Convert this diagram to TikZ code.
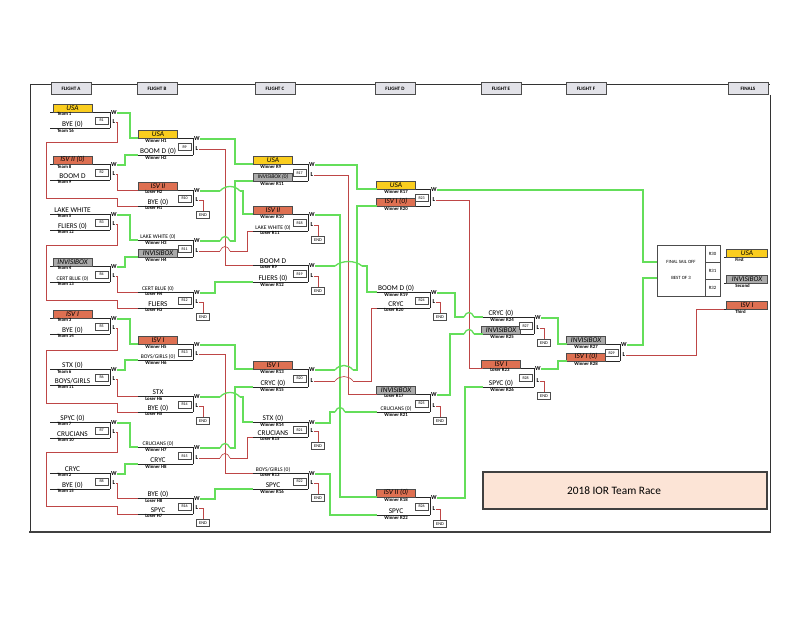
\documentclass[tikz,border=0pt]{standalone}
\usepackage{fontspec}
\setmainfont{Carlito}
\definecolor{ylw}{RGB}{250,205,30}
\definecolor{rdf}{RGB}{222,112,82}
\definecolor{gyf}{RGB}{170,170,170}
\definecolor{grn}{RGB}{100,222,90}
\definecolor{rdl}{RGB}{190,70,70}
\definecolor{peach}{RGB}{252,228,214}
\definecolor{hdr}{RGB}{226,226,232}
\tikzset{
  win/.style={grn, line width=1pt},
  lose/.style={rdl, line width=0.5pt},
  tline/.style={black!85, line width=0.6pt},
  rlab/.style={draw=black!70, line width=0.3pt, fill=white, minimum width=10pt, minimum height=5pt, inner sep=0pt, font=\fontsize{3}{3}\selectfont},
  endbox/.style={draw=black!70, line width=0.3pt, fill=white, minimum width=10pt, minimum height=5pt, inner sep=0pt, font=\fontsize{3.3}{3.3}\selectfont},
  nm/.style={anchor=base, inner sep=0pt, yshift=1.3pt, font=\fontsize{5.5}{6}\selectfont},
  nms/.style={anchor=base, inner sep=0pt, yshift=1.3pt, font=\fontsize{4.2}{5}\selectfont},
  bx/.style={anchor=south, inner sep=0pt, minimum width=29pt, minimum height=6pt, draw=black!70, line width=0.3pt, font=\fontsize{5.5}{6}\selectfont\itshape},
  yelbox/.style={bx, fill=ylw},
  redbox/.style={bx, fill=rdf},
  grybox/.style={bx, fill=gyf},
  grysmall/.style={bx, fill=gyf, font=\fontsize{4.2}{5}\selectfont\itshape},
  sub/.style={anchor=north west, inner sep=0pt, yshift=-0.4pt, font=\fontsize{3.6}{4}\selectfont\bfseries},
  wl/.style={inner sep=0pt, font=\fontsize{4.6}{4.6}\selectfont\bfseries},
  hdrbox/.style={draw=black!70, line width=0.5pt, fill=hdr, minimum width=30pt, minimum height=9.5pt, inner sep=0pt, font=\fontsize{3.8}{4}\selectfont\bfseries},
  ftxt/.style={inner sep=0pt, font=\fontsize{3.6}{4}\selectfont},
}
\newcommand\team[7]{%
  \draw[tline] (#2,#4) coordinate (#1) -- (#3,#4);
  \node[#5] (#1n) at ({(#2+#3-15)/2},#4) {#6};
  \node[sub] (#1s) at ({#2+7},#4) {#7};
}
\newcommand\rmatch[4]{%
  \draw[tline] (#2,#3) -- (#2,#4);
  \node[rlab, anchor=east] (R#1box) at ({#2-1.5},{(#3+#4)/2+0.5}) {R#1};
  \node[wl] (R#1w) at ({#2+4},{#3+1}) {W};
  \node[wl] (R#1l) at ({#2+4},{#4-6}) {L};
}
\newcommand\wire[4]{\draw[#1] (#2) -| (#3,0 |- #4) -- (#4);}
\newcommand\xfinbox[3]{%
  \node[endbox] (R#1e) at ({#2+10},{#3+9}) {END};
  \draw[lose] (R#1l.east) -| (R#1e.north);
}
\newcommand\vfix[3]{\draw[#3] (#1,{#2-6}) -- (#1,{#2+6});}
\newcommand\hop[5]{%
  \draw[white, line width=1.8pt] ({#1-0.3},#3) -- ({#2+0.3},#3);
  #5
  \draw[#4] (#1,#3) .. controls ({#1+0.25*(#2-#1)},{#3-6}) and ({#2-0.25*(#2-#1)},{#3-6}) .. (#2,#3);
}
\begin{document}
\begin{tikzpicture}[x=0.75pt,y=-0.75pt]
\useasboundingbox (0,0) rectangle (800,617);
\fill[white] (0,0) rectangle (800,617);
% frame
\draw[black!80, line width=0.7pt] (30,84) -- (770,84);
\draw[black!80, line width=0.7pt] (30,84) -- (30,532);
\draw[black!80, line width=0.7pt] (770,95) -- (770,532);
\draw[black!75, line width=1.6pt] (29,532) -- (771,532);
% headers
\node[hdrbox] (hA) at (71,88.5) {FLIGHT A};
\node[hdrbox] (hB) at (157,88.5) {FLIGHT B};
\node[hdrbox] (hC) at (275,88.5) {FLIGHT C};
\node[hdrbox] (hD) at (395,88.5) {FLIGHT D};
\node[hdrbox] (hE) at (501,88.5) {FLIGHT E};
\node[hdrbox] (hF) at (586,88.5) {FLIGHT F};
\node[hdrbox] (hG) at (748,88.5) {FINALS};
% ---------------- Flight A
\team{R1a}{50}{110}{112}{yelbox}{USA}{Team 1}
\team{R1b}{50}{110}{128}{nm}{BYE (0)}{Team 16}
\rmatch{1}{110}{112}{128}
\team{R2a}{50}{110}{164}{redbox}{ISV II (0)}{Team 8}
\team{R2b}{50}{110}{180}{nm}{BOOM D}{Team 9}
\rmatch{2}{110}{164}{180}
\team{R3a}{50}{110}{214}{nm}{LAKE WHITE}{Team 5}
\team{R3b}{50}{110}{230}{nm}{FLIERS (0)}{Team 12}
\rmatch{3}{110}{214}{230}
\team{R4a}{50}{110}{266}{grybox}{INVISIBOX}{Team 4}
\team{R4b}{50}{110}{282}{nms}{CERT BLUE (0)}{Team 13}
\rmatch{4}{110}{266}{282}
\team{R5a}{50}{110}{318}{redbox}{ISV I}{Team 3}
\team{R5b}{50}{110}{334}{nm}{BYE (0)}{Team 14}
\rmatch{5}{110}{318}{334}
\team{R6a}{50}{110}{369}{nm}{STX (0)}{Team 6}
\team{R6b}{50}{110}{385}{nm}{BOYS/GIRLS}{Team 11}
\rmatch{6}{110}{369}{385}
\team{R7a}{50}{110}{422}{nm}{SPYC (0)}{Team 7}
\team{R7b}{50}{110}{438}{nm}{CRUCIANS}{Team 10}
\rmatch{7}{110}{422}{438}
\team{R8a}{50}{110}{473}{nm}{CRYC}{Team 2}
\team{R8b}{50}{110}{489}{nm}{BYE (0)}{Team 15}
\rmatch{8}{110}{473}{489}
% ---------------- Flight B
\team{R9a}{138}{193}{138}{yelbox}{USA}{Winner H1}
\team{R9b}{138}{193}{155}{nm}{BOOM D (0)}{Winner H2}
\rmatch{9}{193}{138}{155}
\team{R10a}{138}{193}{190}{redbox}{ISV II}{Loser H2}
\team{R10b}{138}{193}{206}{nm}{BYE (0)}{Loser H1}
\rmatch{10}{193}{190}{206}
\team{R11a}{138}{193}{240}{nms}{LAKE WHITE (0)}{Winner H3}
\team{R11b}{138}{193}{257}{grybox}{INVISIBOX}{Winner H4}
\rmatch{11}{193}{240}{257}
\team{R12a}{138}{193}{292}{nms}{CERT BLUE (0)}{Loser H4}
\team{R12b}{138}{193}{308}{nm}{FLIERS}{Loser H3}
\rmatch{12}{193}{292}{308}
\team{R13a}{138}{193}{344}{redbox}{ISV I}{Winner H5}
\team{R13b}{138}{193}{360}{nms}{BOYS/GIRLS (0)}{Winner H6}
\rmatch{13}{193}{344}{360}
\team{R14a}{138}{193}{396}{nm}{STX}{Loser H6}
\team{R14b}{138}{193}{412}{nm}{BYE (0)}{Loser H5}
\rmatch{14}{193}{396}{412}
\team{R15a}{138}{193}{447}{nms}{CRUCIANS (0)}{Winner H7}
\team{R15b}{138}{193}{464}{nm}{CRYC}{Winner H8}
\rmatch{15}{193}{447}{464}
\team{R16a}{138}{193}{498}{nm}{BYE (0)}{Loser H8}
\team{R16b}{138}{193}{514}{nm}{SPYC}{Loser H7}
\rmatch{16}{193}{498}{514}
% ---------------- Flight C
\team{R17a}{253}{308}{164}{yelbox}{USA}{Winner R9}
\team{R17b}{253}{308}{181}{grysmall}{INVISIBOX (0)}{Winner R11}
\rmatch{17}{308}{164}{181}
\team{R18a}{253}{308}{214}{redbox}{ISV II}{Winner R10}
\team{R18b}{253}{308}{231}{nms}{LAKE WHITE (0)}{Loser R11}
\rmatch{18}{308}{214}{231}
\team{R19a}{253}{308}{265}{nm}{BOOM D}{Loser R9}
\team{R19b}{253}{308}{282}{nm}{FLIERS (0)}{Winner R12}
\rmatch{19}{308}{265}{282}
\team{R20a}{253}{308}{369}{redbox}{ISV I}{Winner R13}
\team{R20b}{253}{308}{387}{nm}{CRYC (0)}{Winner R15}
\rmatch{20}{308}{369}{387}
\team{R21a}{253}{308}{422}{nm}{STX (0)}{Winner R14}
\team{R21b}{253}{308}{437}{nm}{CRUCIANS}{Loser R15}
\rmatch{21}{308}{422}{437}
\team{R22a}{253}{308}{473}{nms}{BOYS/GIRLS (0)}{Loser R13}
\team{R22b}{253}{308}{489}{nm}{SPYC}{Winner R16}
\rmatch{22}{308}{473}{489}
% ---------------- Flight D
\team{R23a}{377}{430}{189}{yelbox}{USA}{Winner R17}
\team{R23b}{377}{430}{206}{redbox}{ISV I (0)}{Winner R20}
\rmatch{23}{430}{189}{206}
\team{R24a}{377}{430}{292}{nm}{BOOM D (0)}{Winner R19}
\team{R24b}{377}{430}{308}{nm}{CRYC}{Loser R20}
\rmatch{24}{430}{292}{308}
\team{R25a}{377}{430}{394}{grybox}{INVISIBOX}{Loser R17}
\team{R25b}{377}{430}{412}{nms}{CRUCIANS (0)}{Winner R21}
\rmatch{25}{430}{394}{412}
\team{R26a}{377}{430}{497}{redbox}{ISV II (0)}{Winner R18}
\team{R26b}{377}{430}{515}{nm}{SPYC}{Winner R22}
\rmatch{26}{430}{497}{515}
% ---------------- Flight E
\team{R27a}{483}{534}{317}{nm}{CRYC (0)}{Winner R24}
\team{R27b}{483}{534}{334}{grybox}{INVISIBOX}{Winner R25}
\rmatch{27}{534}{317}{334}
\team{R28a}{483}{534}{368}{redbox}{ISV I}{Loser R23}
\team{R28b}{483}{534}{387}{nm}{SPYC (0)}{Winner R26}
\rmatch{28}{534}{368}{387}
% ---------------- Flight F
\team{R29a}{567}{620}{344}{grybox}{INVISIBOX}{Winner R27}
\team{R29b}{567}{620}{361}{redbox}{ISV I (0)}{Winner R28}
\rmatch{29}{620}{344}{361}
% ---------------- Finals
\node[draw=black!70, line width=0.4pt, fill=white, minimum width=47.25pt, minimum height=38.25pt, inner sep=0pt] (FB) at (688.5,270.5) {};
\draw[black!70, line width=0.4pt] (705,245) -- (705,296);
\draw[black!70, line width=0.4pt] (705,262) -- (720,262);
\draw[black!70, line width=0.4pt] (705,279) -- (720,279);
\node[ftxt] (FBt1) at (681,262) {FINAL SAIL OFF};
\node[ftxt] (FBt2) at (681,278) {BEST OF 3};
\node[ftxt] (FB30) at (712.5,253.5) {R30};
\node[ftxt] (FB31) at (712.5,270.5) {R31};
\node[ftxt] (FB32) at (712.5,287.5) {R32};
\coordinate (fin1) at (657,262);
\coordinate (fin2) at (657,278);
\draw[tline] (724,257) coordinate (T1) -- (768,257);
\node[yelbox, minimum width=31pt] (T1n) at (747,257) {USA};
\node[sub] (T1s) at (735,257) {First};
\draw[tline] (724,283) coordinate (T2) -- (768,283);
\node[grybox, minimum width=31pt] (T2n) at (747,283) {INVISIBOX};
\node[sub] (T2s) at (735,283) {Second};
\draw[tline] (724,309) coordinate (T3) -- (768,309);
\node[redbox, minimum width=31pt] (T3n) at (747,309) {ISV I};
\node[sub] (T3s) at (735,309) {Third};
% ---------------- title
\draw[black!75, line width=0.8pt, fill=peach] (483,472) rectangle (767,509);
\node[inner sep=0pt, font=\fontsize{8.5}{9}\selectfont] (title) at (614,491) {2018 IOR Team Race};
% ---------------- END boxes
\xfinbox{10}{193}{206}
\xfinbox{12}{193}{308}
\xfinbox{14}{193}{412}
\xfinbox{16}{193}{514}
\xfinbox{18}{308}{231}
\xfinbox{19}{308}{282}
\xfinbox{21}{308}{437}
\xfinbox{22}{308}{489}
\xfinbox{24}{430}{308}
\xfinbox{25}{430}{412}
\xfinbox{26}{430}{515}
\xfinbox{27}{534}{334}
\xfinbox{28}{534}{387}
% ---------------- A -> B
\wire{win}{R1w.east}{130}{R9a}
\wire{win}{R2w.east}{125}{R9b}
\wire{win}{R3w.east}{130}{R11a}
\wire{win}{R4w.east}{125}{R11b}
\wire{win}{R5w.east}{130}{R13a}
\wire{win}{R6w.east}{125}{R13b}
\wire{win}{R7w.east}{130}{R15a}
\wire{win}{R8w.east}{125}{R15b}
\draw[lose] (R1l.east) -| (117,142) -| (46,198) -| (117,0 |- R10b) -- (R10b);
\wire{lose}{R2l.east}{117}{R10a}
\draw[lose] (R3l.east) -| (117,245) -| (46,300) -| (117,0 |- R12b) -- (R12b);
\wire{lose}{R4l.east}{117}{R12a}
\draw[lose] (R5l.east) -| (117,350) -| (46,403) -| (117,0 |- R14b) -- (R14b);
\wire{lose}{R6l.east}{117}{R14a}
\draw[lose] (R7l.east) -| (117,452) -| (46,506) -| (117,0 |- R16b) -- (R16b);
\wire{lose}{R8l.east}{117}{R16a}
% ---------------- B -> C
\wire{win}{R9w.east}{235}{R17a}
\wire{win}{R10w.east}{243}{R18a}
\wire{win}{R11w.east}{235}{R17b}
\wire{win}{R12w.east}{215}{R19b}
\wire{win}{R13w.east}{235}{R20a}
\wire{win}{R14w.east}{243}{R21a}
\wire{win}{R15w.east}{235}{R20b}
\wire{win}{R16w.east}{215}{R22b}
\wire{lose}{R9l.east}{225}{R19a}
\wire{lose}{R11l.east}{247}{R18b}
\wire{lose}{R13l.east}{225}{R22a}
\wire{lose}{R15l.east}{247}{R21b}
% ---------------- C -> D
\wire{win}{R17w.east}{357}{R23a}
\wire{win}{R18w.east}{340}{R26a}
\wire{win}{R19w.east}{367}{R24a}
\wire{win}{R20w.east}{357}{R23b}
\wire{win}{R21w.east}{330}{R25b}
\wire{win}{R22w.east}{330}{R26b}
\wire{lose}{R17l.east}{348}{R25a}
\wire{lose}{R20l.east}{371}{R24b}
% ---------------- D -> E -> F -> Finals
\wire{win}{R23w.east}{643}{fin1}
\wire{lose}{R23l.east}{469}{R28a}
\wire{win}{R24w.east}{455}{R27a}
\wire{win}{R25w.east}{450}{R27b}
\wire{win}{R26w.east}{465}{R28b}
\wire{win}{R27w.east}{558}{R29a}
\wire{win}{R28w.east}{558}{R29b}
\wire{win}{R29w.east}{643}{fin2}
\wire{lose}{R29l.east}{696}{T3}
% ---------------- line jumps
\hop{220}{240}{191}{win}{\vfix{225}{191}{lose}\vfix{235}{191}{win}}
\hop{220}{230}{241}{win}{\vfix{225}{241}{lose}}
\hop{220}{230}{251}{lose}{\vfix{225}{251}{lose}}
\hop{220}{240}{397}{win}{\vfix{225}{397}{lose}\vfix{235}{397}{win}}
\hop{220}{230}{448}{win}{\vfix{225}{448}{lose}}
\hop{220}{230}{458}{lose}{\vfix{225}{458}{lose}}
\hop{335}{362}{266}{win}{\vfix{340}{266}{win}\vfix{348}{266}{lose}\vfix{357}{266}{win}}
\hop{335}{353}{370}{win}{\vfix{340}{370}{win}\vfix{348}{370}{lose}}
\hop{335}{353}{381}{lose}{\vfix{340}{381}{win}\vfix{348}{381}{lose}}
\hop{335}{345}{412}{win}{\vfix{340}{412}{win}}
\hop{464}{474}{317}{win}{\vfix{469}{317}{lose}}
\hop{464}{474}{334}{win}{\vfix{469}{334}{lose}}
\end{tikzpicture}
\end{document}
